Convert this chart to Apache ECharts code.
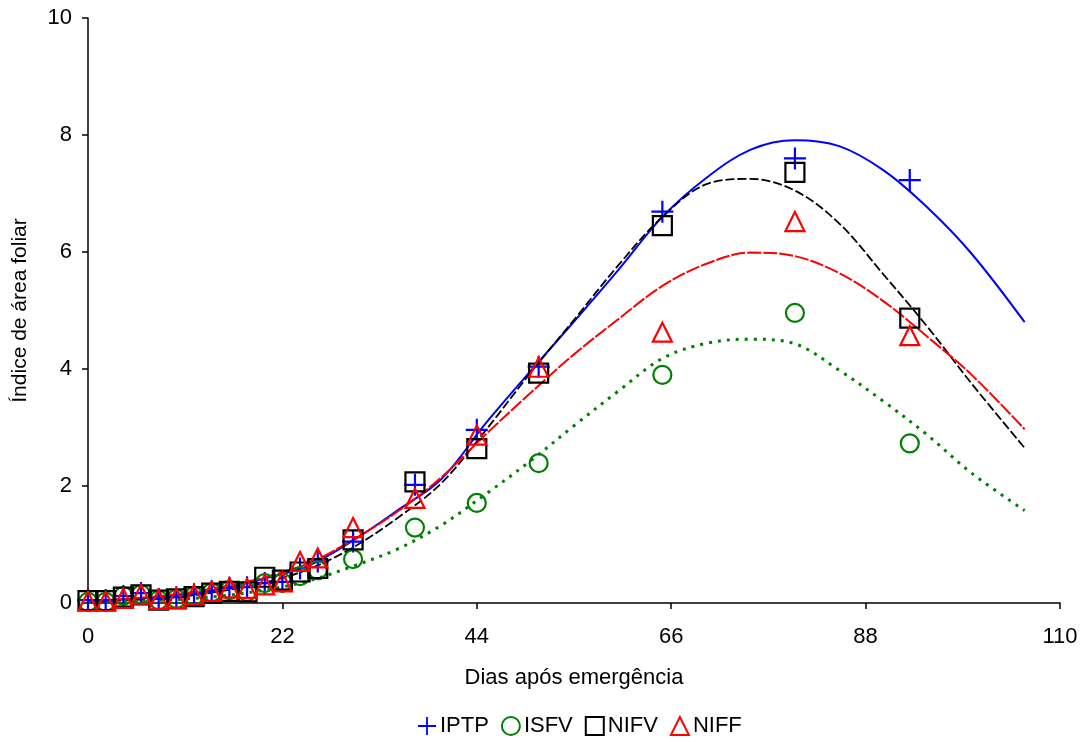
<!DOCTYPE html>
<html>
<head>
<meta charset="utf-8">
<script src="https://cdn.jsdelivr.net/npm/echarts@6/dist/echarts.min.js"></script>
<style>
html,body{margin:0;padding:0;background:#fff;}
#chart{width:1090px;height:742px;}
</style>
</head>
<body>
<div id="chart"></div>
<script>
// Observed data (days after emergence)
const days = [0,2,4,6,8,10,12,14,16,18,20,22,24,26,30,37,44,51,65,80,93];
const iptp = [0.05,0.05,0.12,0.17,0.07,0.10,0.15,0.20,0.26,0.27,0.34,0.36,0.59,0.71,1.05,2.02,2.96,4.04,6.69,7.60,7.23];
const isfv = [0.02,0.02,0.12,0.15,0.05,0.07,0.12,0.18,0.22,0.19,0.34,0.35,0.46,0.56,0.75,1.29,1.71,2.39,3.90,4.96,2.73];
const nifv = [0.04,0.04,0.10,0.14,0.05,0.07,0.11,0.17,0.20,0.19,0.44,0.39,0.53,0.59,1.08,2.07,2.64,3.93,6.45,7.36,4.87];
const niff = [0.03,0.03,0.08,0.15,0.06,0.08,0.14,0.20,0.26,0.25,0.31,0.36,0.71,0.77,1.29,1.79,2.87,4.03,4.63,6.52,4.57];

// Fitted curves
const fitDays = [0,5,10,15,20,25,30,35,40,45,50,55,60,65,70,75,80,85,90,95,100,106];
const fitIptp = [0.03,0.07,0.13,0.24,0.42,0.64,1.07,1.58,2.12,3.07,3.95,4.81,5.69,6.60,7.27,7.75,7.91,7.81,7.40,6.76,5.97,4.80];
const fitIsfv = [0.01,0.03,0.06,0.12,0.22,0.38,0.63,0.92,1.33,1.86,2.42,3.03,3.62,4.18,4.44,4.51,4.43,3.98,3.45,2.87,2.22,1.58];
const fitNifv = [0.02,0.05,0.10,0.20,0.35,0.58,0.95,1.45,2.05,2.95,3.92,4.84,5.77,6.60,7.16,7.25,7.05,6.49,5.62,4.72,3.75,2.65];
const fitNiff = [0.03,0.08,0.15,0.27,0.44,0.68,1.08,1.56,2.15,2.88,3.58,4.25,4.85,5.42,5.80,5.99,5.93,5.64,5.16,4.55,3.90,2.97];

const xTicks = {min:0, max:110, interval:22};
const yTicks = {min:0, max:10, interval:2};

const pair = (xs, ys) => xs.map((x,i)=>[x, ys[i]]);
const font = 'Liberation Sans, Arial, sans-serif';
const plusPath = 'path://M0,9H20V11H0Z M9,0H11V20H9Z';

const chart = echarts.init(document.getElementById('chart'), null, {renderer:'canvas'});
const fitLine = (name, xs, ys, color, type, width) => ({
  name, type:'line', data: pair(xs, ys), smooth:0.35, symbol:'none', silent:true,
  lineStyle:{color, width, type, opacity:1}, z:2, emphasis:{disabled:true}
});
const scat = (name, ys, symbol, size, style) => ({
  name, type:'scatter', data: pair(days, ys), symbol, symbolSize:size,
  itemStyle: Object.assign({opacity:1}, style), z:3, emphasis:{disabled:true}
});

chart.setOption({
  animation:false,
  backgroundColor:'#fff',
  grid:{left:88, right:30, top:18, bottom:139, containLabel:false},
  xAxis:{
    type:'value', min:xTicks.min, max:xTicks.max, interval:xTicks.interval,
    name:'Dias após emergência', nameLocation:'middle', nameGap:64,
    nameTextStyle:{fontFamily:font, fontSize:22, color:'#000'},
    axisLine:{lineStyle:{color:'#000', width:1.5}},
    axisTick:{show:true, inside:false, length:6, lineStyle:{color:'#000', width:1.5}},
    axisLabel:{fontFamily:font, fontSize:22, color:'#000', margin:23},
    splitLine:{show:false}
  },
  yAxis:{
    type:'value', min:yTicks.min, max:yTicks.max, interval:yTicks.interval,
    name:'Índice de área foliar', nameLocation:'middle', nameGap:57, nameRotate:90,
    nameTextStyle:{fontFamily:font, fontSize:21, color:'#000'},
    axisLine:{show:true, lineStyle:{color:'#000', width:1.5}},
    axisTick:{show:true, inside:false, length:6, lineStyle:{color:'#000', width:1.5}},
    axisLabel:{fontFamily:font, fontSize:22, color:'#000', margin:16},
    splitLine:{show:false}
  },
  legend:{
    data:['IPTP','ISFV','NIFV','NIFF'],
    top:710, left:413, itemGap:12, itemWidth:18, itemHeight:18,
    textStyle:{fontFamily:font, fontSize:22, color:'#000', padding:[0,0,0,-1]}
  },
  series:[
    fitLine('fIPTP', fitDays, fitIptp, '#0000ff', 'solid', 2),
    fitLine('fNIFV', fitDays, fitNifv, '#000000', [9,3], 1.8),
    fitLine('fNIFF', fitDays, fitNiff, '#ff0000', [14,2], 2),
    fitLine('fISFV', fitDays, fitIsfv, '#008000', [3,6], 3),
    scat('IPTP', iptp, plusPath, 22, {color:'#0000ff'}),
    scat('ISFV', isfv, 'circle', 18, {color:'rgba(0,0,0,0)', borderColor:'#008000', borderWidth:2.2}),
    scat('NIFV', nifv, 'rect', 19, {color:'rgba(0,0,0,0)', borderColor:'#000000', borderWidth:2.2}),
    scat('NIFF', niff, 'triangle', 19, {color:'rgba(0,0,0,0)', borderColor:'#ff0000', borderWidth:2.2})
  ]
});
</script>
</body>
</html>
